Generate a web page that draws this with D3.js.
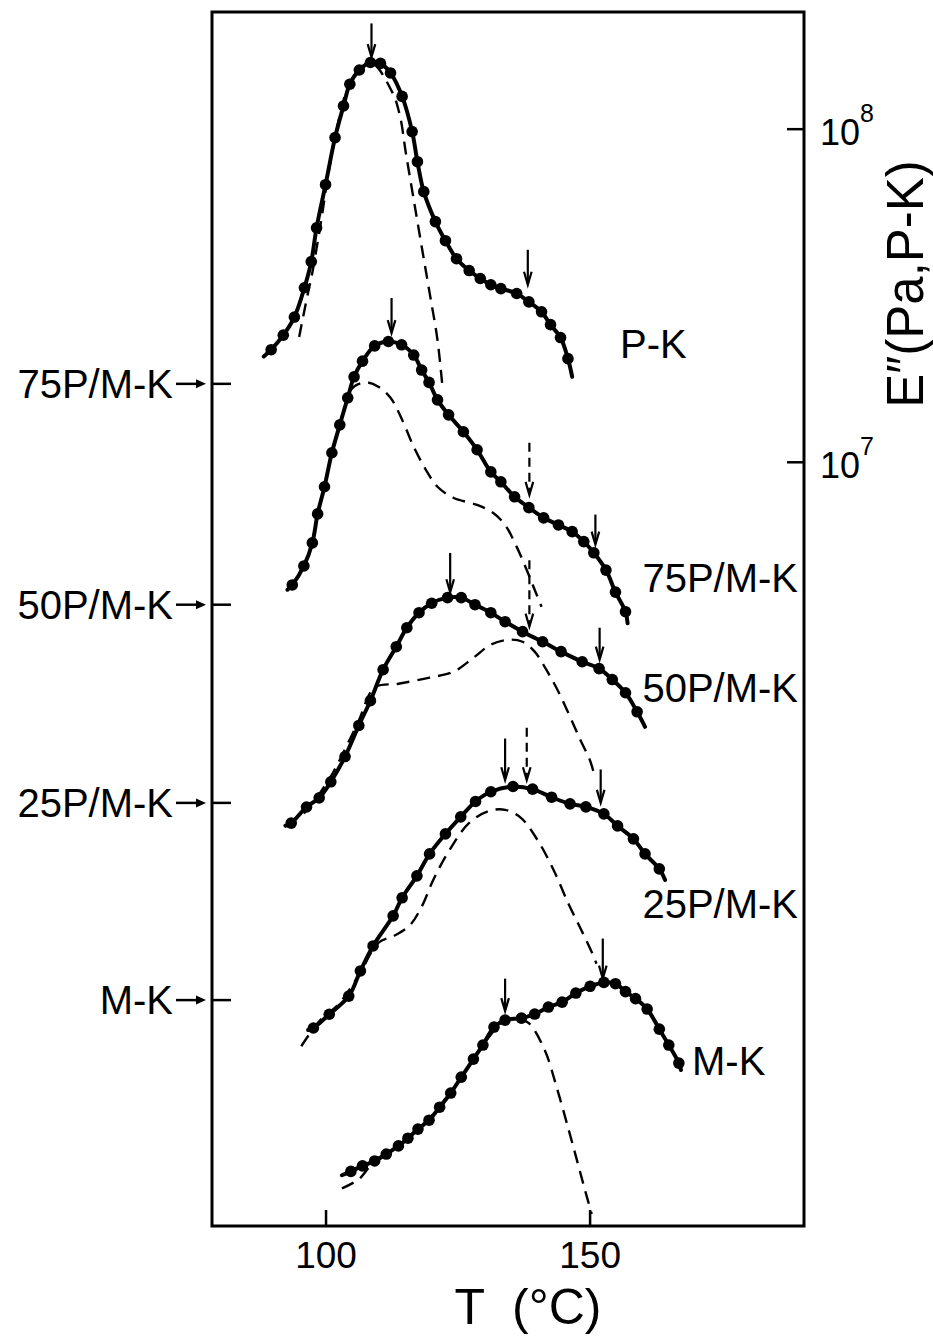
<!DOCTYPE html>
<html>
<head>
<meta charset="utf-8">
<script src="https://cdn.jsdelivr.net/npm/d3@7"></script>
<style>
  body { margin: 0; background: #fff; }
  svg { display: block; }
  text { font-family: "Liberation Sans", Arial, Helvetica, sans-serif; fill: #000; }
</style>
</head>
<body>
<svg id="chart" width="933" height="1336"></svg>
<script>
// Loss modulus E'' (MPa) against temperature T (°C) for P-K, M-K and their blends.
// Each blend curve is shifted down the log axis; its left-hand arrow marks 10^8 Pa for that curve.
// In every solid series the first and last points are where the drawn line stops (no dot).

const seriesNames = ["P-K", "75P/M-K", "50P/M-K", "25P/M-K", "M-K"];
const shiftDecades = [0, 0.766, 1.429, 2.024, 2.616];

// P-K
const pkT = [88.3, 89.7, 92.0, 94.1, 96.0, 97.3, 98.3, 100.0, 101.8, 103.4, 104.6, 106.4, 108.5, 110.4, 112.3, 114.5, 116.4, 117.4, 118.6, 120.8, 122.7, 124.8, 127.2, 129.3, 131.3, 133.2, 136.2, 138.5, 140.9, 142.6, 144.5, 145.9, 146.7];
const pkE = [20.7, 21.7, 24.0, 27.2, 33.3, 39.9, 50.4, 67.9, 94.0, 117, 136, 150, 158, 157, 147, 125, 98, 79.6, 64.7, 52.6, 46.1, 40.7, 37.5, 35.5, 34.0, 33.1, 32.0, 30.2, 28.2, 25.8, 23.6, 20.4, 18.0];
const pkDashT = [95.0, 96.4, 97.5, 98.8, 101.8, 104.6, 108.5, 112.6, 114.1, 115.2, 116.7, 118.2, 119.7, 121.2, 122.2];
const pkDashE = [23.7, 30.6, 37.0, 48.7, 94.0, 136, 158, 129, 109, 84.7, 61.2, 44.3, 32.2, 23.2, 16.4];

// 75P/M-K
const b75T = [92.8, 93.7, 95.9, 97.5, 98.5, 99.8, 101.2, 102.7, 104.2, 105.4, 107.0, 109.3, 111.9, 114.4, 116.7, 118.2, 119.6, 121.2, 123.3, 126.1, 128.7, 131.3, 133.2, 135.8, 138.5, 141.3, 144.1, 146.7, 148.9, 150.8, 153.1, 154.9, 156.8, 157.2];
const b75E = [24.1, 24.9, 28.4, 33.3, 40.7, 49.1, 62.1, 75.3, 90.8, 105, 117, 130, 134, 131, 122, 110, 101, 89.5, 80.7, 71.8, 63.4, 54.4, 50.8, 45.8, 42.5, 39.6, 37.7, 36.0, 33.6, 31.1, 27.6, 23.7, 20.7, 19.1];
const b75DashT = [104.6, 105.9, 107.8, 110.0, 112.3, 114.5, 116.7, 119.0, 121.2, 124.2, 128.7, 131.7, 134.0, 136.2, 138.1, 139.6, 140.9];
const b75DashE = [95.3, 99.3, 101, 98.0, 90.8, 78.0, 64.7, 55.2, 49.1, 45.5, 43.3, 41.0, 37.7, 32.4, 27.6, 24.1, 21.4];

// 50P/M-K
const b50T = [92.4, 93.5, 96.4, 98.8, 101.0, 103.7, 106.3, 108.5, 110.9, 113.4, 115.4, 117.7, 120.1, 123.1, 125.7, 128.3, 131.3, 134.0, 137.3, 141.1, 144.6, 148.6, 151.8, 154.3, 156.8, 159.0, 160.5];
const b50E = [21.7, 22.1, 24.7, 26.3, 29.4, 35.0, 43.4, 51.5, 63.8, 74.8, 85.3, 94.6, 101, 105, 105, 100, 94.6, 88.9, 83.0, 77.4, 72.3, 67.4, 64.3, 59.6, 54.4, 47.7, 43.0];
const b50DashT = [95.9, 98.8, 101.4, 104.0, 106.3, 109.3, 113.8, 119.7, 124.2, 128.0, 131.3, 134.7, 137.3, 139.6, 141.8, 144.1, 146.3, 148.2, 150.1, 151.0];
const b50DashE = [23.6, 27.0, 31.3, 37.7, 44.9, 56.4, 57.9, 60.4, 62.9, 69.3, 75.9, 78.5, 77.4, 72.3, 63.8, 54.8, 46.1, 39.4, 34.0, 30.4];

// 25P/M-K
const b25T = [96.7, 97.7, 100.7, 104.4, 106.6, 109.0, 112.8, 114.5, 117.3, 119.7, 122.7, 125.6, 128.4, 131.3, 135.5, 139.2, 142.8, 146.3, 149.3, 152.7, 155.3, 158.3, 160.5, 163.2, 164.3];
const b25E = [20.8, 21.1, 23.2, 26.3, 31.3, 37.2, 45.8, 51.9, 60.4, 70.3, 80.7, 90.8, 101, 108, 112, 110, 104, 99.3, 97.3, 92.7, 85.3, 78.0, 70.3, 63.4, 58.7];
const b25DashT = [95.4, 98.8, 102.5, 106.3, 110.0, 113.0, 116.0, 118.2, 120.5, 123.5, 127.2, 131.0, 134.0, 137.0, 140.0, 143.0, 146.0, 148.6, 150.8, 151.3];
const b25DashE = [18.6, 22.1, 24.9, 30.4, 38.0, 39.9, 43.0, 48.8, 59.2, 72.3, 87.1, 94.6, 95.3, 90.2, 78.0, 63.8, 49.8, 41.0, 34.5, 32.9];

// M-K
const mkT = [103.1, 104.8, 107.0, 109.3, 111.5, 113.8, 115.6, 117.5, 119.6, 121.6, 123.7, 125.7, 128.0, 129.8, 131.9, 134.0, 137.1, 139.6, 142.2, 144.8, 147.4, 150.1, 152.7, 154.9, 156.8, 158.7, 160.9, 163.2, 165.0, 166.9, 167.3];
const mkE = [29.8, 30.6, 31.8, 32.9, 34.5, 36.5, 38.5, 41.0, 43.6, 47.7, 52.6, 58.7, 66.5, 73.3, 83.0, 87.1, 88.3, 90.8, 95.3, 98.6, 105, 110, 113, 112, 106, 101, 94.0, 81.8, 73.3, 64.7, 61.7];
const mkDashT = [103.1, 106.3, 109.3, 113.8, 117.5, 121.6, 125.7, 129.8, 134.0, 136.5, 138.5, 141.5, 143.7, 146.0, 147.8, 149.3, 150.4];
const mkDashE = [27.2, 29.0, 32.9, 36.5, 41.0, 47.7, 58.7, 73.3, 87.1, 88.0, 85.3, 70.8, 55.2, 41.0, 32.2, 26.3, 22.8];

// Peak-position arrows: series index, T, E at arrow tip, E at arrow tail, dashed shaft
const arrowSeries = [0, 0, 1, 1, 1, 2, 2, 2, 3, 3, 3, 4, 4];
const arrowT      = [108.7, 138.3, 112.5, 138.6, 151.1, 123.6, 138.6, 151.9, 134.0, 138.1, 152.1, 134.0, 152.5];
const arrowTipE   = [164, 34.0, 142, 46.4, 32.9, 109, 85.9, 68.4, 117, 117, 100, 92.7, 116];
const arrowTailE  = [207, 43.3, 181, 66.5, 40.5, 143, 136, 85.3, 156, 168, 126, 116, 153];
const arrowDashed = [false, false, false, true, false, false, true, false, false, true, false, false, false];

// Axis ticks
const xTicks = [100, 150];
const yTicksMPa = [10, 100];
const yTickExp = ["7", "8"];
const refE = 100; // 10^8 Pa, marked for each shifted blend on the left

const solidT = [pkT, b75T, b50T, b25T, mkT];
const solidE = [pkE, b75E, b50E, b25E, mkE];
const dashT = [pkDashT, b75DashT, b50DashT, b25DashT, mkDashT];
const dashE = [pkDashE, b75DashE, b50DashE, b25DashE, mkDashE];

const svg = d3.select("#chart");
const frameL = 212, frameR = 804, frameT = 12, frameB = 1226;

const x = d3.scaleLinear().domain([78.5, 190.6]).range([frameL, frameR]);
const y = d3.scaleLog().domain([0.0508, 224]).range([frameB, frameT]);

// plotted value for series i (shift down the log axis)
const yS = (i, e) => y(e / Math.pow(10, shiftDecades[i]));

svg.append("clipPath").attr("id", "plotClip")
  .append("rect").attr("x", frameL).attr("y", frameT).attr("width", frameR - frameL).attr("height", frameB - frameT);

const plot = svg.append("g").attr("clip-path", "url(#plotClip)");
const smooth = d3.curveCatmullRom.alpha(0.5);

// dashed component curves
seriesNames.forEach((name, i) => {
  const pts = dashT[i].map((t, k) => [t, dashE[i][k]]);
  const line = d3.line().x(d => x(d[0])).y(d => yS(i, d[1])).curve(smooth);
  plot.append("path").attr("d", line(pts))
    .attr("fill", "none").attr("stroke", "#000").attr("stroke-width", 2.4)
    .attr("stroke-dasharray", "13,8");
});

// measured curves with dots
seriesNames.forEach((name, i) => {
  const pts = solidT[i].map((t, k) => [t, solidE[i][k]]);
  const line = d3.line().x(d => x(d[0])).y(d => yS(i, d[1])).curve(smooth);
  plot.append("path").attr("d", line(pts))
    .attr("fill", "none").attr("stroke", "#000").attr("stroke-width", 4)
    .attr("stroke-linejoin", "round").attr("stroke-linecap", "round");
  plot.selectAll(null).data(pts.slice(1, -1)).enter().append("circle")
    .attr("cx", d => x(d[0])).attr("cy", d => yS(i, d[1])).attr("r", 5.8).attr("fill", "#000");
});

// arrows
arrowT.forEach((t, k) => {
  const i = arrowSeries[k];
  const ax = x(t), y0 = yS(i, arrowTailE[k]), y1 = yS(i, arrowTipE[k]);
  plot.append("line").attr("x1", ax).attr("x2", ax).attr("y1", y0).attr("y2", y1 - 2)
    .attr("stroke", "#000").attr("stroke-width", 2.2)
    .attr("stroke-dasharray", arrowDashed[k] ? "9,6" : null);
  plot.append("path")
    .attr("d", `M${ax - 3.8},${y1 - 13} L${ax},${y1} L${ax + 3.8},${y1 - 13}`)
    .attr("fill", "none").attr("stroke", "#000").attr("stroke-width", 2.2);
});

// frame
svg.append("rect").attr("x", frameL).attr("y", frameT).attr("width", frameR - frameL).attr("height", frameB - frameT)
  .attr("fill", "none").attr("stroke", "#000").attr("stroke-width", 3);

// bottom axis: inward ticks, labels below
const xAxis = d3.axisBottom(x).tickValues(xTicks).tickSize(-16).tickPadding(16).tickFormat(d3.format("d"));
const gx = svg.append("g").attr("transform", `translate(0,${frameB})`).call(xAxis);
gx.select(".domain").remove();
gx.selectAll(".tick line").attr("stroke", "#000").attr("stroke-width", 2.5);
gx.selectAll(".tick text").attr("font-size", 37).attr("dy", "0.71em")
  .style("font-family", '"Liberation Sans", Arial, sans-serif').attr("fill", "#000");

// right axis: inward ticks, 10^n labels
const yAxis = d3.axisRight(y).tickValues(yTicksMPa).tickSize(-17).tickFormat("");
const gy = svg.append("g").attr("transform", `translate(${frameR},0)`).call(yAxis);
gy.select(".domain").remove();
gy.selectAll(".tick line").attr("stroke", "#000").attr("stroke-width", 2.5);
yTicksMPa.forEach((v, k) => {
  const ty = y(v);
  const t = svg.append("text").attr("x", frameR + 16).attr("y", ty + 16).attr("font-size", 36);
  t.append("tspan").text("10");
  t.append("tspan").attr("dy", -23).attr("font-size", 25).text(yTickExp[k]);
});

// left reference arrows for shifted blends
for (let i = 1; i < seriesNames.length; i++) {
  const ty = yS(i, refE);
  svg.append("line").attr("x1", frameL).attr("x2", frameL + 19).attr("y1", ty).attr("y2", ty)
    .attr("stroke", "#000").attr("stroke-width", 2.5);
  svg.append("text").attr("x", 173).attr("y", ty + 14).attr("text-anchor", "end")
    .attr("font-size", 40).text(seriesNames[i]);
  svg.append("line").attr("x1", 176).attr("x2", 198).attr("y1", ty).attr("y2", ty)
    .attr("stroke", "#000").attr("stroke-width", 2.5);
  svg.append("path").attr("d", `M196,${ty - 4.5} L206,${ty} L196,${ty + 4.5} Z`).attr("fill", "#000");
}

// curve labels
const curveLabelX = [620, 798, 798, 798, 692];
const curveLabelY = [358, 592, 702, 918, 1075];
const curveLabelAnchor = ["start", "end", "end", "end", "start"];
seriesNames.forEach((name, i) => {
  svg.append("text").attr("x", curveLabelX[i]).attr("y", curveLabelY[i])
    .attr("text-anchor", curveLabelAnchor[i]).attr("font-size", 40).text(name);
});

// axis titles
svg.append("text").attr("x", 528).attr("y", 1324).attr("text-anchor", "middle")
  .attr("font-size", 50).attr("xml:space", "preserve").text("T  (°C)");
svg.append("text").attr("transform", "translate(923,284) rotate(-90)").attr("text-anchor", "middle")
  .attr("font-size", 51).text("E″(Pa,P-K)");
</script>
</body>
</html>
